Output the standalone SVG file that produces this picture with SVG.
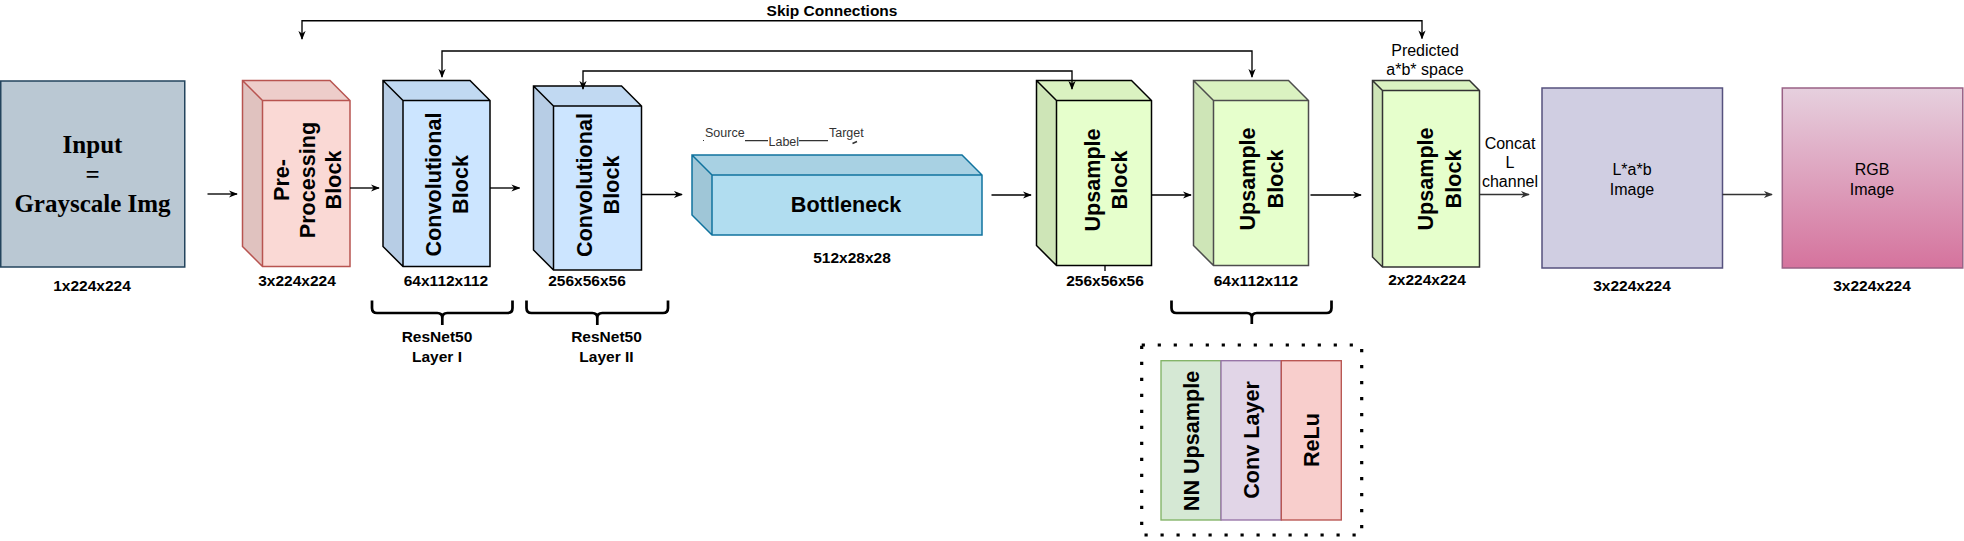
<svg xmlns="http://www.w3.org/2000/svg" width="1964" height="541" viewBox="0 0 1964 541">
<defs>
<marker id="arrk" viewBox="0 0 10 8" refX="9" refY="4" markerWidth="9" markerHeight="7.2" markerUnits="userSpaceOnUse" orient="auto-start-reverse">
<path d="M0,0 L10,4 L0,8 L3,4 z" fill="#000"/>
</marker>
<marker id="arrg" viewBox="0 0 10 8" refX="9" refY="4" markerWidth="9" markerHeight="7.2" markerUnits="userSpaceOnUse" orient="auto-start-reverse">
<path d="M0,0 L10,4 L0,8 L3,4 z" fill="#333"/>
</marker>
<linearGradient id="rgbg" x1="0" y1="0" x2="0" y2="1">
<stop offset="0" stop-color="#e6d0de"/>
<stop offset="1" stop-color="#d5739d"/>
</linearGradient>
</defs>
<style>
text{font-family:"Liberation Sans",Arial,sans-serif;fill:#000}
.lbl{font-size:15.5px;font-weight:bold;text-anchor:middle}
.reg{font-size:16px;text-anchor:middle}
.big{font-size:21.6px;font-weight:bold;text-anchor:middle}
.serif{font-family:"Liberation Serif","Times New Roman",serif;font-size:25px;font-weight:bold;text-anchor:middle}
.sm{font-size:12.5px;fill:#333}
.edge{fill:none;stroke:#000;stroke-width:1.35}
.edgeg{fill:none;stroke:#333;stroke-width:1.35}
.brace{fill:none;stroke:#000;stroke-width:2.7;stroke-linejoin:round}
.dk1{fill:#000;fill-opacity:0.05;stroke:none}
.dk2{fill:#000;fill-opacity:0.1;stroke:none}
.ol{fill:none;stroke-width:1.5;stroke-linejoin:miter}
</style>

<g id="input">
<rect x="0.75" y="81" width="184" height="186" fill="#bac8d3" stroke="#23445d" stroke-width="1.5"/>
<text class="serif" x="92.5" y="153">Input</text>
<text class="serif" x="92.5" y="182.5">=</text>
<text class="serif" x="92.5" y="212">Grayscale Img</text>
<text class="lbl" x="92" y="291">1x224x224</text>
</g>

<g id="preprocessing">
<path d="M242.5,80.5 H330 L350,100.5 V266.5 H262.5 L242.5,246.5 Z" fill="#fad9d5"/>
<path class="dk1" d="M242.5,80.5 H330 L350,100.5 H262.5 Z"/>
<path class="dk2" d="M242.5,80.5 L262.5,100.5 V266.5 L242.5,246.5 Z"/>
<path class="ol" stroke="#b85450" d="M242.5,80.5 H330 L350,100.5 V266.5 H262.5 L242.5,246.5 Z M242.5,80.5 L262.5,100.5 H350 M262.5,100.5 V266.5"/>
<text class="big" transform="translate(307,180) rotate(-90)"><tspan x="0" y="-18.3">Pre-</tspan><tspan x="0" y="7.7">Processing</tspan><tspan x="0" y="33.7">Block</tspan></text>
<text class="lbl" x="297" y="285.5">3x224x224</text>
</g>

<g id="conv1">
<path d="M383,80.5 H470 L490,100.5 V266.5 H403 L383,246.5 Z" fill="#cce5ff"/>
<path class="dk1" d="M383,80.5 H470 L490,100.5 H403 Z"/>
<path class="dk2" d="M383,80.5 L403,100.5 V266.5 L383,246.5 Z"/>
<path class="ol" stroke="#000" d="M383,80.5 H470 L490,100.5 V266.5 H403 L383,246.5 Z M383,80.5 L403,100.5 H490 M403,100.5 V266.5"/>
<text class="big" transform="translate(446.5,184.5) rotate(-90)"><tspan x="0" y="-5.8">Convolutional</tspan><tspan x="0" y="21.2">Block</tspan></text>
<text class="lbl" x="446" y="285.5">64x112x112</text>
</g>

<g id="conv2">
<path d="M533.5,86 H621.5 L641.5,106 V270 H553.5 L533.5,250 Z" fill="#cce5ff"/>
<path class="dk1" d="M533.5,86 H621.5 L641.5,106 H553.5 Z"/>
<path class="dk2" d="M533.5,86 L553.5,106 V270 L533.5,250 Z"/>
<path class="ol" stroke="#000" d="M533.5,86 H621.5 L641.5,106 V270 H553.5 L533.5,250 Z M533.5,86 L553.5,106 H641.5 M553.5,106 V270"/>
<text class="big" transform="translate(598,185) rotate(-90)"><tspan x="0" y="-5.8">Convolutional</tspan><tspan x="0" y="21.2">Block</tspan></text>
<text class="lbl" x="587" y="285.5">256x56x56</text>
</g>

<g id="resnet-braces">
<path class="brace" d="M372,300.5 V308 Q372,313 377,313 H437.3 Q442.3,313 442.3,318 V325 M442.3,318 Q442.3,313 447.3,313 H507.5 Q512.5,313 512.5,308 V300.5"/>
<path class="brace" d="M526.5,300.5 V308 Q526.5,313 531.5,313 H592.3 Q597.3,313 597.3,318 V325 M597.3,318 Q597.3,313 602.3,313 H663 Q668,313 668,308 V300.5"/>
<text class="lbl" x="437" y="341.5">ResNet50</text>
<text class="lbl" x="437" y="361.5">Layer I</text>
<text class="lbl" x="606.5" y="341.5">ResNet50</text>
<text class="lbl" x="606.5" y="361.5">Layer II</text>
</g>

<g id="bottleneck">
<path d="M692,155 H962 L982,175 V235 H712 L692,215 Z" fill="#b1ddf0"/>
<path class="dk1" d="M692,155 H962 L982,175 H712 Z"/>
<path class="dk2" d="M692,155 L712,175 V235 L692,215 Z"/>
<path class="ol" stroke="#10739e" d="M692,155 H962 L982,175 V235 H712 L692,215 Z M692,155 L712,175 H982 M712,175 V235"/>
<text class="big" x="846" y="212">Bottleneck</text>
<text class="lbl" x="852" y="262.5">512x28x28</text>
</g>

<g id="upsample1">
<path d="M1036.5,80.5 H1131.5 L1151.5,100.5 V265.5 H1056.5 L1036.5,245.5 Z" fill="#e6ffcc"/>
<path class="dk1" d="M1036.5,80.5 H1131.5 L1151.5,100.5 H1056.5 Z"/>
<path class="dk2" d="M1036.5,80.5 L1056.5,100.5 V265.5 L1036.5,245.5 Z"/>
<path class="ol" stroke="#000" d="M1036.5,80.5 H1131.5 L1151.5,100.5 V265.5 H1056.5 L1036.5,245.5 Z M1036.5,80.5 L1056.5,100.5 H1151.5 M1056.5,100.5 V265.5"/>
<text class="big" transform="translate(1105.5,180) rotate(-90)"><tspan x="0" y="-6">Upsample</tspan><tspan x="0" y="21.5">Block</tspan></text>
<text class="lbl" x="1105" y="285.5">256x56x56</text>
</g>

<g id="upsample2">
<path d="M1193.5,80.5 H1288.5 L1308.5,100.5 V265.5 H1213.5 L1193.5,245.5 Z" fill="#e6ffcc"/>
<path class="dk1" d="M1193.5,80.5 H1288.5 L1308.5,100.5 H1213.5 Z"/>
<path class="dk2" d="M1193.5,80.5 L1213.5,100.5 V265.5 L1193.5,245.5 Z"/>
<path class="ol" stroke="#4d4d4d" d="M1193.5,80.5 H1288.5 L1308.5,100.5 V265.5 H1213.5 L1193.5,245.5 Z M1193.5,80.5 L1213.5,100.5 H1308.5 M1213.5,100.5 V265.5"/>
<text class="big" transform="translate(1261,179) rotate(-90)"><tspan x="0" y="-6">Upsample</tspan><tspan x="0" y="21.5">Block</tspan></text>
<text class="lbl" x="1256" y="285.5">64x112x112</text>
<path class="brace" d="M1171.5,300.5 V308 Q1171.5,313 1176.5,313 H1246.8 Q1251.8,313 1251.8,318 V324 M1251.8,318 Q1251.8,313 1256.8,313 H1326.5 Q1331.5,313 1331.5,308 V300.5"/>
</g>

<g id="upsample-detail">
<rect x="1141.7" y="345" width="220" height="190" fill="none" stroke="#000" stroke-width="3.2" stroke-dasharray="3.2 12.8"/>
<g id="nn-upsample">
<rect x="1161" y="360.7" width="60" height="159.3" fill="#d5e8d4" stroke="#82b366" stroke-width="1.35"/>
<text class="big" transform="translate(1191,441) rotate(-90)" y="7.7">NN Upsample</text>
</g>
<g id="conv-layer">
<rect x="1221" y="360.7" width="60.3" height="159.3" fill="#e1d5e7" stroke="#9673a6" stroke-width="1.35"/>
<text class="big" transform="translate(1251,440) rotate(-90)" y="7.7">Conv Layer</text>
</g>
<g id="relu">
<rect x="1281.3" y="360.7" width="60" height="159.3" fill="#f8cecc" stroke="#b85450" stroke-width="1.35"/>
<text class="big" transform="translate(1311,440) rotate(-90)" y="7.7">ReLu</text>
</g>
</g>

<g id="upsample3">
<path d="M1372.5,80.5 H1469.5 L1479.5,90.5 V267 H1382.5 L1372.5,257 Z" fill="#e6ffcc"/>
<path class="dk1" d="M1372.5,80.5 H1469.5 L1479.5,90.5 H1382.5 Z"/>
<path class="dk2" d="M1372.5,80.5 L1382.5,90.5 V267 L1372.5,257 Z"/>
<path class="ol" stroke="#333" d="M1372.5,80.5 H1469.5 L1479.5,90.5 V267 H1382.5 L1372.5,257 Z M1372.5,80.5 L1382.5,90.5 H1479.5 M1382.5,90.5 V267"/>
<text class="big" transform="translate(1439,179) rotate(-90)"><tspan x="0" y="-6">Upsample</tspan><tspan x="0" y="21.5">Block</tspan></text>
<text class="lbl" x="1427" y="285">2x224x224</text>
<text class="reg" x="1425" y="56">Predicted</text>
<text class="reg" x="1425" y="75">a*b* space</text>
<text class="reg" x="1510" y="148.5">Concat</text>
<text class="reg" x="1510" y="167.5">L</text>
<text class="reg" x="1510" y="186.5">channel</text>
</g>

<g id="lab-image">
<rect x="1542" y="88" width="180.5" height="180" fill="#d0cee2" stroke="#56517e" stroke-width="1.5"/>
<text class="reg" x="1632" y="175">L*a*b</text>
<text class="reg" x="1632" y="195">Image</text>
<text class="lbl" x="1632" y="291">3x224x224</text>
</g>

<g id="rgb-image">
<rect x="1782.3" y="88" width="180.5" height="180" fill="url(#rgbg)" stroke="#996185" stroke-width="1.5"/>
<text class="reg" x="1872" y="174.5">RGB</text>
<text class="reg" x="1872" y="194.5">Image</text>
<text class="lbl" x="1872" y="291">3x224x224</text>
</g>

<g id="connectors">
<path class="edge" d="M207.5,194 H237" marker-end="url(#arrk)"/>
<path class="edge" d="M350,188 H379" marker-end="url(#arrk)"/>
<path class="edge" d="M490,188 H519.5" marker-end="url(#arrk)"/>
<path class="edge" d="M641.5,194.5 H682" marker-end="url(#arrk)"/>
<path class="edge" d="M991.5,195 H1031" marker-end="url(#arrk)"/>
<path class="edge" d="M1151.5,195 H1191" marker-end="url(#arrk)"/>
<path class="edge" d="M1310.5,195 H1361" marker-end="url(#arrk)"/>
<path class="edgeg" d="M1479.5,194.5 H1529" marker-end="url(#arrg)"/>
<path class="edgeg" d="M1722.5,194.5 H1772" marker-end="url(#arrg)"/>
<path class="edge" d="M302,39 V20.7 H1422 V38.5" marker-start="url(#arrk)" marker-end="url(#arrk)"/>
<path class="edge" d="M442,77 V51 H1252 V77" marker-start="url(#arrk)" marker-end="url(#arrk)"/>
<path class="edge" d="M583,89 V71 H1072 V89" marker-start="url(#arrk)" marker-end="url(#arrk)"/>
<path class="edge" d="M1105,265.5 V271"/>
<text class="lbl" x="832" y="15.5">Skip Connections</text>
<g id="stray-edge">
<path d="M703,140.5 h1" stroke="#333" stroke-width="1"/>
<path d="M745,140.7 H768 M799,140.7 H828" stroke="#333" stroke-width="1.2"/>
<path d="M852.5,143.5 L857,141.5" stroke="#333" stroke-width="1.5"/>
<text class="sm" x="705" y="136.5">Source</text>
<text class="sm" x="768.5" y="146">Label</text>
<text class="sm" x="829" y="136.5">Target</text>
</g>
</g>
</svg>
